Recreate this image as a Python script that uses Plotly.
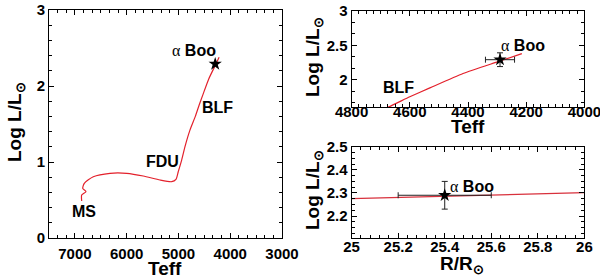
import plotly.graph_objects as go

# ---- data ----
TEFF_TRACK = [6869, 6869, 6786, 6849, 6819, 6645, 6322, 6000, 5680, 5357, 5131,
              5048, 5004, 4938, 4875, 4778, 4674, 4600, 4531, 4417, 4294, 4215]
LOGL_TRACK = [0.487, 0.566, 0.609, 0.654, 0.72, 0.806, 0.851, 0.851, 0.816, 0.763, 0.741,
              0.772, 0.872, 1.026, 1.20, 1.42, 1.60, 1.75, 1.88, 2.09, 2.265, 2.378]

R_TRACK = [25.0, 25.5, 26.0]
LOGL_R_TRACK = [2.275, 2.288, 2.301]

STAR_TEFF = [4290]
STAR_TEFF_ERR = [50]
STAR_LOGL = [2.29]
STAR_LOGL_ERR = [0.1]
STAR_R = [25.4]
STAR_R_ERR = [0.2]
STAR_LOGL_ERR_R = [0.06]

LABELS_HR = ["MS", "FDU", "BLF"]
LABELS_HR_T = [6824, 5299, 4237]
LABELS_HR_L = [0.355, 1.01, 1.72]

RED = "#e3202b"
FONT = "Liberation Sans"
W, H = 600, 279

fig = go.Figure()

track_line = dict(color=RED, width=1.2, shape="spline", smoothing=0.6)
err_col = "#222222"

# left panel: full track
fig.add_trace(go.Scatter(x=TEFF_TRACK, y=LOGL_TRACK, mode="lines", line=track_line,
                         xaxis="x", yaxis="y", showlegend=False))
fig.add_trace(go.Scatter(x=STAR_TEFF, y=STAR_LOGL, mode="markers", marker=dict(symbol="star", size=10, color="black"),
                         xaxis="x", yaxis="y", showlegend=False))

# top right: zoom on track
fig.add_trace(go.Scatter(x=TEFF_TRACK, y=LOGL_TRACK, mode="lines", line=track_line,
                         xaxis="x2", yaxis="y2", showlegend=False))
fig.add_trace(go.Scatter(x=STAR_TEFF, y=STAR_LOGL, mode="markers",
                         marker=dict(symbol="star", size=10, color="black"),
                         error_x=dict(type="data", array=STAR_TEFF_ERR, color=err_col, thickness=1, width=3),
                         error_y=dict(type="data", array=STAR_LOGL_ERR, color=err_col, thickness=1, width=3),
                         xaxis="x2", yaxis="y2", showlegend=False))

# bottom right: radius
fig.add_trace(go.Scatter(x=R_TRACK, y=LOGL_R_TRACK, mode="lines", line=dict(color="#d8303c", width=1.3),
                         xaxis="x3", yaxis="y3", showlegend=False))
fig.add_trace(go.Scatter(x=STAR_R, y=STAR_LOGL, mode="markers",
                         marker=dict(symbol="star", size=10, color="black"),
                         error_x=dict(type="data", array=STAR_R_ERR, color=err_col, thickness=1, width=3),
                         error_y=dict(type="data", array=STAR_LOGL_ERR_R, color=err_col, thickness=1, width=3),
                         xaxis="x3", yaxis="y3", showlegend=False))

tickfont = dict(family=FONT, size=15, color="black", weight="bold")
titlefont = dict(family=FONT, size=19, color="black", weight="bold")


def ax(domain, rng, dtick, tick0, minor_dtick, anchor, tls):
    return dict(domain=domain, range=rng, dtick=dtick, tick0=tick0, tickmode="linear",
                ticks="inside", ticklen=5, tickwidth=1, tickcolor="black",
                minor=dict(ticks="inside", ticklen=3, tickwidth=1, tickcolor="black",
                           tickmode="linear", dtick=minor_dtick, tick0=tick0),
                showline=True, linecolor="black", linewidth=1, mirror="ticks",
                showgrid=False, zeroline=False, tickfont=tickfont, automargin=False,
                ticklabelstandoff=tls, ticklabeloverflow="allow",
                anchor=anchor)


fig.update_layout(
    width=W, height=H,
    margin=dict(l=0, r=0, t=0, b=0, pad=0),
    paper_bgcolor="white", plot_bgcolor="white",
    xaxis=ax([0.0817, 0.47], [7500, 3000], 1000, 3000, 1000 / 6, "y", 2),
    yaxis=ax([0.147, 0.964], [0, 3], 1, 0, 0.2, "x", 0),
    xaxis2=ax([0.586, 0.974], [4800, 4000], 200, 4000, 25, "y2", -9),
    yaxis2=ax([0.616, 0.961], [1.6, 3], 0.5, 2, 0.5 / 3, "x2", 0),
    xaxis3=ax([0.586, 0.974], [25, 26], 0.2, 25, 0.04, "y3", -5),
    yaxis3=ax([0.147, 0.474], [2.105, 2.5], 0.1, 2.2, 0.025, "x3", 0),
)

SUN_L = "Log L/L<sub>⊙</sub>"
alpha_boo = "<span style='font-family:Liberation Serif;font-weight:normal'>α</span> <b>Boo</b>"
ann_font = dict(family=FONT, size=16, color="black")

annotations = []
for t, x, y in zip(LABELS_HR, LABELS_HR_T, LABELS_HR_L):
    annotations.append(dict(x=x, y=y, xref="x", yref="y", text=f"<b>{t}</b>", showarrow=False, font=ann_font))
annotations.append(dict(x=4701, y=2.47, xref="x", yref="y", text=alpha_boo, showarrow=False, font=ann_font))
annotations.append(dict(x=4640, y=1.88, xref="x2", yref="y2", text="<b>BLF</b>", showarrow=False, font=ann_font))
annotations.append(dict(x=4211, y=2.5, xref="x2", yref="y2", text=alpha_boo, showarrow=False, font=ann_font))
annotations.append(dict(x=25.516, y=2.33, xref="x3", yref="y3", text=alpha_boo, showarrow=False, font=ann_font))

# axis titles (pixel centres)
TITLES = [("Teff", 165, 268, 0), ("Teff", 468, 127, 0), ("R/R<sub>⊙</sub>", 462, 265, 0),
          (SUN_L, 16, 122, -90), (SUN_L, 314, 57, -90), (SUN_L, 314, 190, -90)]
for txt, px, py, ang in TITLES:
    annotations.append(dict(x=px / W, y=1 - py / H, xref="paper", yref="paper", text=txt,
                            textangle=ang, showarrow=False, font=titlefont,
                            xanchor="center", yanchor="middle"))
fig.update_layout(annotations=annotations)

fig.write_html("out.html", config={"displayModeBar": False},
               post_script="document.body.style.margin='0';document.body.style.overflow='hidden';")
